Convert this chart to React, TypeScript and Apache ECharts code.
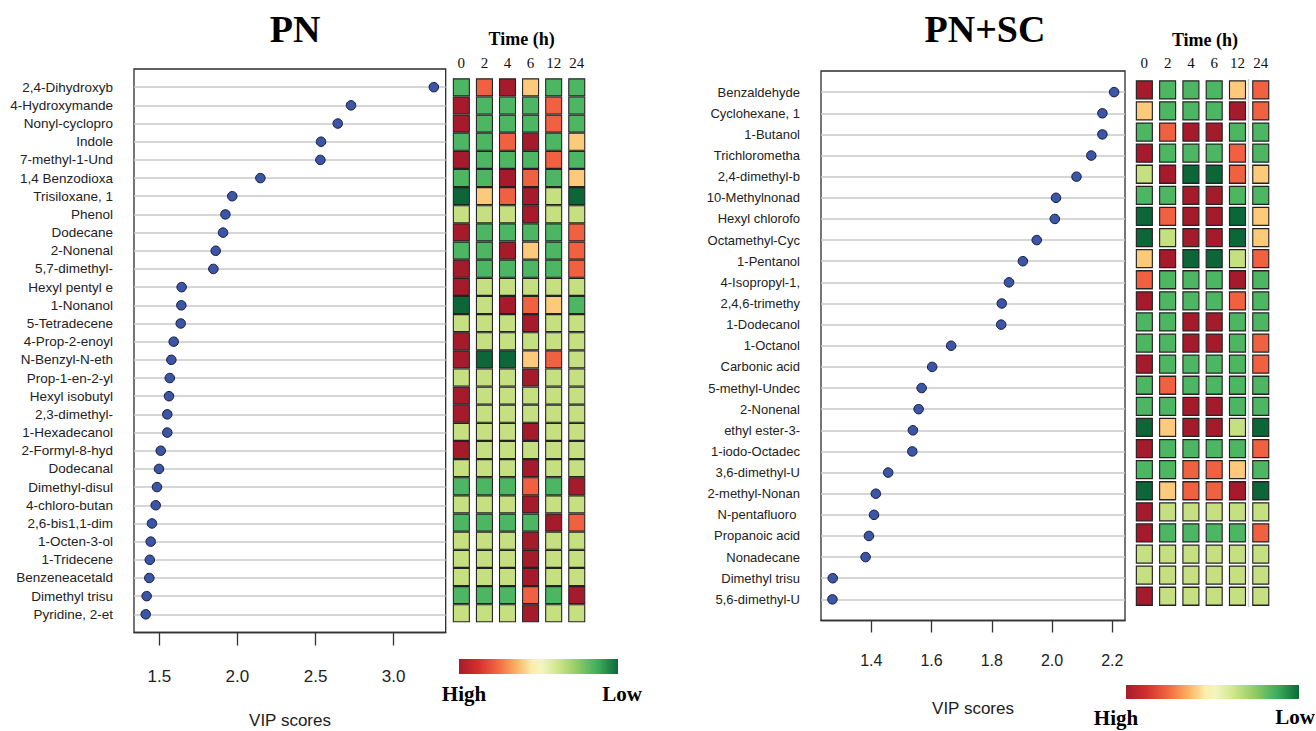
import React, { useEffect, useRef } from "react";
import * as echarts from "echarts";

// ---------- data ----------
const timeLabels = ["0", "2", "4", "6", "12", "24"];

const pnNames = [
  "2,4-Dihydroxyb", "4-Hydroxymande", "Nonyl-cyclopro", "Indole", "7-methyl-1-Und",
  "1,4 Benzodioxa", "Trisiloxane, 1", "Phenol", "Dodecane", "2-Nonenal",
  "5,7-dimethyl-", "Hexyl pentyl e", "1-Nonanol", "5-Tetradecene", "4-Prop-2-enoyl",
  "N-Benzyl-N-eth", "Prop-1-en-2-yl", "Hexyl isobutyl", "2,3-dimethyl-", "1-Hexadecanol",
  "2-Formyl-8-hyd", "Dodecanal", "Dimethyl-disul", "4-chloro-butan", "2,6-bis1,1-dim",
  "1-Octen-3-ol", "1-Tridecene", "Benzeneacetald", "Dimethyl trisu", "Pyridine, 2-et",
];
const pnVip = [
  3.257, 2.727, 2.642, 2.535, 2.531, 2.147, 1.967, 1.923, 1.908, 1.861,
  1.846, 1.643, 1.641, 1.637, 1.592, 1.577, 1.567, 1.562, 1.551, 1.551,
  1.509, 1.498, 1.485, 1.477, 1.453, 1.445, 1.439, 1.436, 1.419, 1.413,
];
const pnTicks = [1.5, 2.0, 2.5, 3.0];

// heat levels: 1 = dark red (high) ... 6 = dark green (low)
const pnH0 = [5,1,1,5,1,5,6,4,1,5,1,1,6,4,1, 1,4,1,1,4,1,4,5,4,5,4,4,4,5,4];
const pnH2 = [2,5,5,5,5,5,3,4,5,5,5,4,4,4,4, 6,4,4,4,4,4,4,5,4,5,4,4,4,5,4];
const pnH4 = [1,5,5,2,5,1,2,4,5,1,5,4,1,4,4, 6,4,4,4,4,4,4,5,4,5,4,4,4,5,4];
const pnH6 = [3,5,5,1,5,2,1,1,5,3,5,4,2,1,4, 3,1,4,4,1,4,1,2,1,5,1,1,1,2,1];
const pnH12 = [5,2,2,5,2,5,4,4,5,5,5,4,3,4,4, 2,4,4,4,4,4,4,5,4,1,4,4,4,5,4];
const pnH24 = [5,5,5,3,5,3,6,4,2,2,2,4,5,4,4, 4,4,4,4,4,4,4,1,4,2,4,4,4,1,4];

const scNames = [
  "Benzaldehyde", "Cyclohexane, 1", "1-Butanol", "Trichlorometha", "2,4-dimethyl-b",
  "10-Methylnonad", "Hexyl chlorofo", "Octamethyl-Cyc", "1-Pentanol", "4-Isopropyl-1,",
  "2,4,6-trimethy", "1-Dodecanol", "1-Octanol", "Carbonic acid", "5-methyl-Undec",
  "2-Nonenal", "ethyl ester-3-", "1-iodo-Octadec", "3,6-dimethyl-U", "2-methyl-Nonan",
  "N-pentafluoro ", "Propanoic acid", "Nonadecane", "Dimethyl trisu", "5,6-dimethyl-U",
];
const scVip = [
  2.206, 2.167, 2.167, 2.130, 2.081, 2.013, 2.009, 1.949, 1.903, 1.857,
  1.833, 1.831, 1.665, 1.602, 1.567, 1.557, 1.538, 1.536, 1.456, 1.415,
  1.409, 1.392, 1.381, 1.272, 1.271,
];
const scTicks = [1.4, 1.6, 1.8, 2.0, 2.2];

const scH0 = [1,3,5,1,4,5,6,6,3,2,1,5, 5,1,5,5,6,1,5,6,1,1,4,4,1];
const scH2 = [5,5,2,5,1,5,2,4,1,5,5,5, 5,5,2,5,3,5,5,3,4,5,4,4,4];
const scH4 = [5,5,1,5,6,1,1,1,6,5,5,1, 1,5,5,1,1,5,2,2,4,5,4,4,4];
const scH6 = [5,5,1,5,6,1,1,1,6,5,5,1, 1,5,5,1,1,5,2,2,4,5,4,4,4];
const scH12 = [3,1,5,2,2,5,6,6,4,1,2,5, 5,5,5,5,4,5,3,1,4,5,4,4,4];
const scH24 = [2,2,5,5,3,5,3,3,2,5,5,5, 2,2,5,5,6,2,5,6,4,2,4,4,4];

const levelColors = ["#a51b2b", "#ef6141", "#fdca7b", "#c6df80", "#4db663", "#0c6638"];

// ---------- helpers ----------
const SANS = "'Liberation Sans', Arial, sans-serif";
const SERIF = "'Liberation Serif', 'Times New Roman', serif";

function heatData(cols: number[][]) {
  const out: number[][] = [];
  cols.forEach((col, c) => col.forEach((lv, r) => out.push([c, r, lv])));
  return out;
}

const gradStops = [
  { offset: 0, color: "#a51c2c" },
  { offset: 0.12, color: "#d3302b" },
  { offset: 0.25, color: "#f26b42" },
  { offset: 0.36, color: "#fcb163" },
  { offset: 0.46, color: "#fbefaa" },
  { offset: 0.52, color: "#f3f5bf" },
  { offset: 0.62, color: "#cfe78a" },
  { offset: 0.74, color: "#93cc66" },
  { offset: 0.87, color: "#3fae5c" },
  { offset: 1, color: "#0a6a38" },
];

function boxY(grid: number, names: string[], fontSize: number) {
  return {
    gridIndex: grid,
    type: "value",
    inverse: true,
    min: 0,
    max: names.length + 1,
    interval: 1,
    axisLine: { show: false, onZero: false },
    axisTick: { show: false },
    axisLabel: {
      margin: 21,
      fontSize,
      color: "#222",
      fontFamily: SANS,
      formatter: (v: number) => names[Math.round(v) - 1] ?? "",
    },
    splitLine: {
      show: true,
      showMinLine: false,
      showMaxLine: false,
      lineStyle: { color: "#c9c9c9", width: 1.5 },
    },
  };
}

function boxX(grid: number, min: number, max: number, ticks: number[], tickLen: number, margin: number, fontSize: number) {
  return {
    gridIndex: grid,
    type: "value",
    position: "bottom",
    min,
    max,
    axisLine: { show: true, onZero: false, lineStyle: { color: "#333", width: 1.3 } },
    axisTick: { show: true, customValues: ticks, length: tickLen, lineStyle: { color: "#333", width: 1.3 } },
    axisLabel: {
      customValues: ticks,
      margin,
      fontSize,
      color: "#222",
      fontFamily: SANS,
      formatter: (v: number) => v.toFixed(1),
    },
    splitLine: { show: false },
  };
}

function heatX(grid: number, margin: number) {
  return {
    gridIndex: grid,
    type: "category",
    data: timeLabels,
    position: "top",
    axisLine: { show: false, onZero: false },
    axisTick: { show: false },
    axisLabel: { margin, fontSize: 15, color: "#111", fontFamily: SERIF },
    splitLine: { show: false },
  };
}

function heatY(grid: number, names: string[]) {
  return { gridIndex: grid, type: "category", data: names, inverse: true, show: false };
}

export default function App() {
  const ref = useRef<HTMLDivElement>(null);

  useEffect(() => {
    if (!ref.current) return;
    const chart = echarts.init(ref.current, undefined, { renderer: "svg" });

    const option: any = {
      animation: false,
      backgroundColor: "#ffffff",
      grid: [
        { left: 134, top: 69, width: 311.7, height: 563.5, show: true, borderColor: "#2b2b2b", borderWidth: 1.3, backgroundColor: "transparent" },
        { left: 449.8, top: 78.3, width: 138.5, height: 544 },
        { left: 821, top: 71, width: 304, height: 549.5, show: true, borderColor: "#2b2b2b", borderWidth: 1.3, backgroundColor: "transparent" },
        { left: 1132.7, top: 79.3, width: 139.7, height: 527.5 },
      ],
      xAxis: [
        boxX(0, 1.338, 3.333, pnTicks, 13, 35, 17),
        heatX(1, 8),
        boxX(2, 1.233, 2.242, scTicks, 12, 32, 16),
        heatX(3, 9),
      ],
      yAxis: [
        boxY(0, pnNames, 13.5),
        heatY(1, pnNames),
        boxY(2, scNames, 13),
        heatY(3, scNames),
      ],
      series: [
        {
          type: "scatter",
          xAxisIndex: 0,
          yAxisIndex: 0,
          data: pnVip.map((v, i) => [v, i + 1]),
          symbolSize: 9.5,
          itemStyle: { color: "#3b56a7", borderColor: "#15183a", borderWidth: 1, opacity: 1 },
          z: 5,
        },
        {
          type: "scatter",
          xAxisIndex: 1,
          yAxisIndex: 1,
          data: heatData([pnH0, pnH2, pnH4, pnH6, pnH12, pnH24]),
          symbol: "rect",
          symbolSize: [16, 17],
          itemStyle: {
            color: (p: any) => levelColors[p.data[2] - 1],
            borderColor: "#222",
            borderWidth: 1.1,
            opacity: 1,
          },
        },
        {
          type: "scatter",
          xAxisIndex: 2,
          yAxisIndex: 2,
          data: scVip.map((v, i) => [v, i + 1]),
          symbolSize: 9.5,
          itemStyle: { color: "#3b56a7", borderColor: "#15183a", borderWidth: 1, opacity: 1 },
          z: 5,
        },
        {
          type: "scatter",
          xAxisIndex: 3,
          yAxisIndex: 3,
          data: heatData([scH0, scH2, scH4, scH6, scH12, scH24]),
          symbol: "rect",
          symbolSize: [16, 18],
          itemStyle: {
            color: (p: any) => levelColors[p.data[2] - 1],
            borderColor: "#222",
            borderWidth: 1.2,
            opacity: 1,
          },
        },
      ],
      graphic: [
        { type: "text", x: 295, y: 29, style: { text: "PN", font: `bold 38px ${SERIF}`, fill: "#000", align: "center", verticalAlign: "middle" } },
        { type: "text", x: 985, y: 29, style: { text: "PN+SC", font: `bold 38px ${SERIF}`, fill: "#000", align: "center", verticalAlign: "middle" } },
        { type: "text", x: 521.7, y: 38.5, style: { text: "Time (h)", font: `bold 18px ${SERIF}`, fill: "#000", align: "center", verticalAlign: "middle" } },
        { type: "text", x: 1205, y: 40, style: { text: "Time (h)", font: `bold 18px ${SERIF}`, fill: "#000", align: "center", verticalAlign: "middle" } },
        { type: "text", x: 290, y: 720, style: { text: "VIP scores", font: `17px ${SANS}`, fill: "#222", align: "center", verticalAlign: "middle" } },
        { type: "text", x: 973, y: 708, style: { text: "VIP scores", font: `17px ${SANS}`, fill: "#222", align: "center", verticalAlign: "middle" } },
        { type: "line", shape: { x1: 1248.5, y1: 79, x2: 1248.5, y2: 607 }, style: { stroke: "#cfcfcf", lineWidth: 1.5 }, z: -1 },
        {
          type: "rect",
          shape: { x: 459, y: 659, width: 159, height: 15 },
          style: { fill: { type: "linear", x: 0, y: 0, x2: 1, y2: 0, colorStops: gradStops } },
        },
        {
          type: "rect",
          shape: { x: 1126, y: 685, width: 173, height: 14 },
          style: { fill: { type: "linear", x: 0, y: 0, x2: 1, y2: 0, colorStops: gradStops } },
        },
        { type: "text", x: 464, y: 694, style: { text: "High", font: `bold 21px ${SERIF}`, fill: "#000", align: "center", verticalAlign: "middle" } },
        { type: "text", x: 622, y: 694, style: { text: "Low", font: `bold 21px ${SERIF}`, fill: "#000", align: "center", verticalAlign: "middle" } },
        { type: "text", x: 1116, y: 718, style: { text: "High", font: `bold 21px ${SERIF}`, fill: "#000", align: "center", verticalAlign: "middle" } },
        { type: "text", x: 1295, y: 717, style: { text: "Low", font: `bold 21px ${SERIF}`, fill: "#000", align: "center", verticalAlign: "middle" } },
      ],
    };

    chart.setOption(option);
    return () => chart.dispose();
  }, []);

  return (
    <div
      ref={ref}
      style={{ position: "absolute", left: 0, top: 0, width: 1316, height: 731, background: "#fff" }}
    />
  );
}
